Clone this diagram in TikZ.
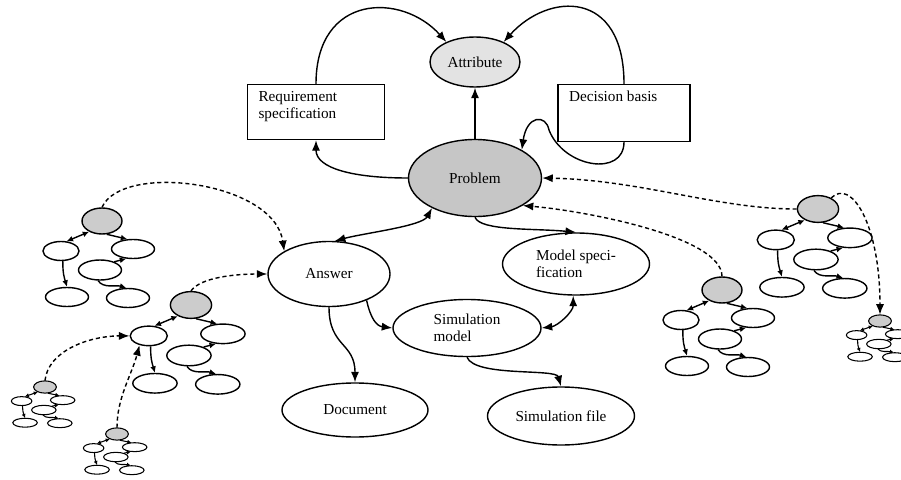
\documentclass[tikz,border=0pt]{standalone}
\usepackage{fontspec}
\setmainfont{Liberation Serif}
\usetikzlibrary{shapes.geometric,arrows.meta}

\tikzset{
  sz/.style n args={2}{minimum width=#1*0.03cm,minimum height=#2*0.03cm},
  bubble/.style={draw,ellipse,inner sep=0pt,align=left,font=\fontsize{13}{14.5}\selectfont},
  note/.style={draw,rectangle,inner xsep=0.33cm,inner ysep=0.2cm,font=\fontsize{13}{14.5}\selectfont},
  hint/.style={->,dash pattern=on 3.5pt off 2.5pt},
  twig/.style={>={Latex[length=5.5pt,width=5pt]}},
  sprig/.style={>={Latex[length=3.5pt,width=3.5pt]},line width=0.9pt}
}

% a small tree of answers hanging off a grey root
\newcommand{\minitree}[3]{%
  \begin{scope}[shift={#2},#3,transform shape]
    \node[bubble,fill=gray!40,sz={40}{26}] (#1r) at (0,0) {};
    \node[bubble,sz={36}{19}] (#1l) at (-41,30) {};
    \node[bubble,sz={43}{19}] (#1rt) at (31,28) {};
    \node[bubble,sz={43}{20}] (#1m) at (-2,49) {};
    \node[bubble,sz={43}{19}] (#1bl) at (-35,76) {};
    \node[bubble,sz={43}{19}] (#1br) at (26,77) {};
    \draw[<->] (#1r.220) -- (#1l.60);
    \draw[->] (#1r.-70) -- (#1rt.120);
    \draw[->] (#1m.30) -- (#1rt.235);
    \draw[->] (#1l.-80) .. controls +(0,12) and +(-3,-10) .. (#1bl.north);
    \draw[->] (#1m.-100) .. controls +(5,8) and +(-10,-3) .. (#1br.100);
  \end{scope}}

\begin{document}
\begin{tikzpicture}[x=0.03cm,y=-0.03cm,line width=1.2pt,>={Latex[length=9pt,width=7pt]}]
\useasboundingbox (0,0) rectangle (901,480);

\node[bubble,fill=gray!22,sz={90}{50}] (attribute) at (475,62) {Attribute};
\node[bubble,fill=gray!45,sz={133}{77}] (problem) at (475,178) {Problem};
\node[note] (req) at (316,112) {\parbox[c][1.25cm][t]{3.45cm}{Requirement\\specification}};
\node[note] (decision) at (624,113) {\parbox[c][1.3cm][t]{3.3cm}{Decision basis}};
\node[bubble,sz={122}{65}] (answer) at (329,274) {Answer};
\node[bubble,sz={147}{62}] (model) at (576,264) {Model speci-\\fication};
\node[bubble,sz={148}{57}] (simmodel) at (467,328) {Simulation\\model};
\node[bubble,sz={146}{54}] (document) at (355,410) {Document};
\node[bubble,sz={147}{58}] (simfile) at (561,416) {Simulation file};

\draw[->] (problem) -- (attribute);
\draw[->] (req.north) .. controls +(0,-90) and +(-45,-50) .. (attribute.145);
\draw[->] (decision.north) .. controls +(0,-95) and +(45,-50) .. (attribute.35);
\draw[->] (decision.south) .. controls +(0,35) and +(15,38) .. ++(-75,-12)
  .. controls +(-3,-16) and +(5,-35) .. (problem.31);
\draw[->] (problem.west) .. controls +(-55,0) and +(0,28) .. (req.south);
\draw[<->] (problem.215) .. controls +(-10,18) and +(30,-8) .. (answer.80);
\draw[->] (problem.south) .. controls +(5,14) and +(-40,-4) .. (model.north);
\draw[<->] (model.-95) .. controls +(0,16) and +(16,-2) .. (simmodel.east);
\draw[->] (answer.-35) .. controls +(4,18) and +(-16,-2) .. (simmodel.west);
\draw[->] (answer.south) .. controls +(0,40) and +(0,-40) .. (document.north);
\draw[->] (simmodel.south) .. controls +(8,20) and +(-5,-18) .. (simfile.north);

\minitree{t1}{(102,221)}{twig}
\minitree{t2}{(191,305)}{twig,scale=1.03}
\minitree{t3}{(45,387)}{sprig,xscale=0.57,yscale=0.47}
\minitree{t4}{(117,434)}{sprig,xscale=0.57,yscale=0.47}
\minitree{t5}{(722,290)}{twig}
\minitree{t6}{(818,209)}{twig,scale=1.03}
\minitree{t7}{(880,321)}{sprig,xscale=0.57,yscale=0.47}

% dashed links from the trees
\draw[hint] (t1r.north) .. controls +(20,-45) and +(-10,-70) .. (answer.153);
\draw[hint] (t2r.north) .. controls +(10,-14) and +(-30,0) .. (answer.west);
\draw[hint] (t3r.north) .. controls +(3,-30) and +(-40,0) .. (t2l.west);
\draw[hint] (t4r.north) .. controls +(0,-30) and +(-8,30) .. (t2l.225);
\draw[hint] (t5r.north) .. controls +(0,-40) and +(60,5) .. (problem.330);
\draw[hint] (t6r.west) .. controls +(-79,0) and +(99,2) .. (problem.east);
\draw[hint] (t6r.40) .. controls +(20,-20) and +(0,-90) .. (t7r.north);
\end{tikzpicture}
\end{document}
